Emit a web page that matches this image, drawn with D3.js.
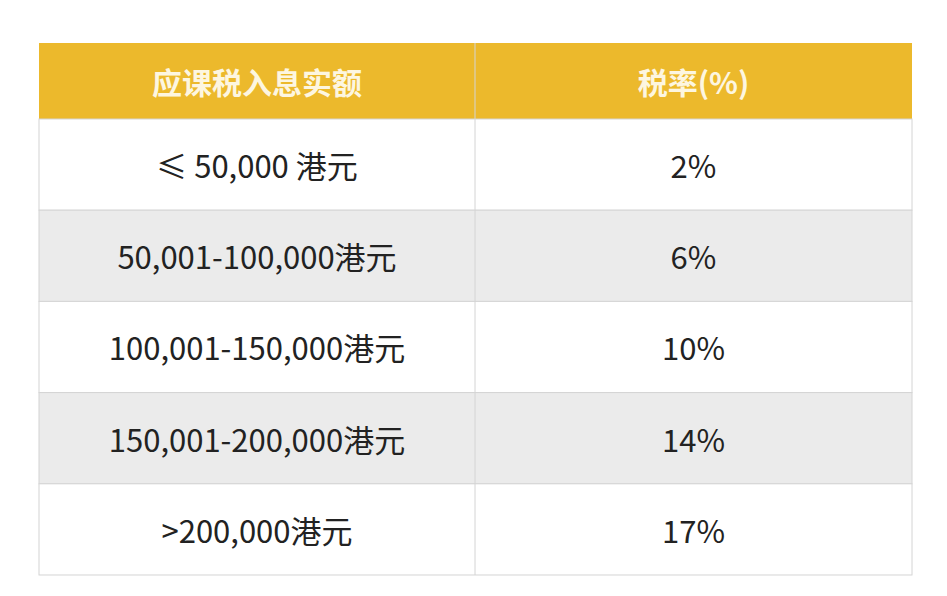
<!DOCTYPE html>
<html><head><meta charset="utf-8">
<script src="https://cdn.jsdelivr.net/npm/d3@7"></script>
<style>body{margin:0;background:#fff}</style>
</head><body>
<script>
// table data
var headers = ["应课税入息实额", "税率(%)"];
var bands = ["≤ 50,000 港元", "50,001-100,000港元", "100,001-150,000港元", "150,001-200,000港元", ">200,000港元"];
var rates = ["2%", "6%", "10%", "14%", "17%"];

var W = 947, H = 596;
var x0 = 39, x1 = 912, y0 = 43, headH = 76, y1 = 575, split = 475;

var svg = d3.select("body").append("svg").attr("width", W).attr("height", H);
var font = "'Noto Sans CJK SC', 'Noto Sans', sans-serif";

var y = d3.scaleBand().domain(d3.range(bands.length)).range([y0 + headH, y1]);
var cols = [[x0, split], [split, x1]];

// header
svg.append("rect").attr("x", x0).attr("y", y0).attr("width", x1 - x0).attr("height", headH)
  .attr("fill", "#ecb92c");
svg.selectAll(".h").data(headers).join("text")
  .attr("x", (d, i) => (cols[i][0] + cols[i][1]) / 2).attr("y", y0 + headH / 2)
  .attr("text-anchor", "middle").attr("dominant-baseline", "central")
  .attr("font-family", font).attr("font-weight", "bold").attr("font-size", 30)
  .attr("fill", "#fdf6e0").text(d => d);

// rows
var rows = svg.selectAll(".row").data(bands).join("g")
  .attr("transform", (d, i) => "translate(0," + y(i) + ")");
rows.append("rect").attr("x", x0).attr("width", x1 - x0).attr("height", y.bandwidth())
  .attr("fill", (d, i) => i % 2 ? "#ebebeb" : "#fff")
  .attr("stroke", "#d4d4d4");
rows.append("text").attr("x", (cols[0][0] + cols[0][1]) / 2).attr("y", y.bandwidth() / 2)
  .attr("text-anchor", "middle").attr("dominant-baseline", "central")
  .attr("font-family", font).attr("font-size", 31).attr("fill", "#222").text(d => d);
rows.append("text").attr("x", (cols[1][0] + cols[1][1]) / 2).attr("y", y.bandwidth() / 2)
  .attr("text-anchor", "middle").attr("dominant-baseline", "central")
  .attr("font-family", font).attr("font-size", 31).attr("fill", "#222").text((d, i) => rates[i]);

// column divider
svg.append("line").attr("x1", split).attr("x2", split).attr("y1", y0).attr("y2", y1)
  .attr("stroke", "#d4d4d4");
</script>
</body></html>
